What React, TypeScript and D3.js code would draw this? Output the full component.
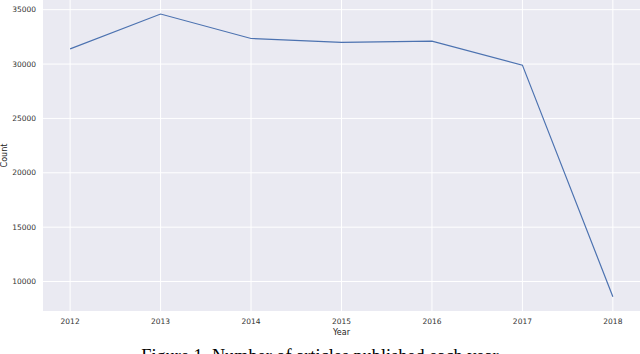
import React, { useEffect, useRef } from 'react';
import * as d3 from 'd3';

const width = 640;
const height = 354;
const margin = { top: 0, right: 0, bottom: 43, left: 43 };

const years = [2012, 2013, 2014, 2015, 2016, 2017, 2018];
const counts = [31400, 34600, 32350, 32000, 32100, 29900, 8600];
const yTicks = [10000, 15000, 20000, 25000, 30000, 35000];

const caption = 'Figure 1. Number of articles published each year';

function App() {
  const ref = useRef<SVGSVGElement | null>(null);

  useEffect(() => {
    const svg = d3.select(ref.current);
    svg.selectAll('*').remove();

    const x = d3
      .scaleLinear()
      .domain([2011.7, 2018.3])
      .range([margin.left, width - margin.right]);

    const y = d3
      .scaleLinear()
      .domain([7290, 35890])
      .range([height - margin.bottom, margin.top]);

    // plot background
    svg
      .append('rect')
      .attr('x', margin.left)
      .attr('y', margin.top)
      .attr('width', width - margin.left - margin.right)
      .attr('height', height - margin.bottom - margin.top)
      .attr('fill', '#eaeaf2');

    // grid
    svg
      .append('g')
      .selectAll('line')
      .data(years)
      .join('line')
      .attr('x1', (d) => x(d))
      .attr('x2', (d) => x(d))
      .attr('y1', margin.top)
      .attr('y2', height - margin.bottom)
      .attr('stroke', '#fff')
      .attr('stroke-width', 1);

    svg
      .append('g')
      .selectAll('line')
      .data(yTicks)
      .join('line')
      .attr('x1', margin.left)
      .attr('x2', width - margin.right)
      .attr('y1', (d) => y(d))
      .attr('y2', (d) => y(d))
      .attr('stroke', '#fff')
      .attr('stroke-width', 1);

    // line
    const line = d3
      .line<number>()
      .x((_, i) => x(years[i]))
      .y((d) => y(d));

    svg
      .append('path')
      .datum(counts)
      .attr('d', line)
      .attr('fill', 'none')
      .attr('stroke', '#4c72b0')
      .attr('stroke-width', 1.2);

    // tick labels
    const font = 'DejaVu Sans';
    svg
      .append('g')
      .selectAll('text')
      .data(years)
      .join('text')
      .attr('x', (d) => x(d))
      .attr('y', height - margin.bottom + 13)
      .attr('text-anchor', 'middle')
      .attr('font-family', font)
      .attr('font-size', 7.5)
      .attr('fill', '#333')
      .text((d) => d);

    svg
      .append('g')
      .selectAll('text')
      .data(yTicks)
      .join('text')
      .attr('x', margin.left - 7)
      .attr('y', (d) => y(d))
      .attr('dy', '0.35em')
      .attr('text-anchor', 'end')
      .attr('font-family', font)
      .attr('font-size', 7.5)
      .attr('fill', '#333')
      .text((d) => d);

    // axis titles
    svg
      .append('text')
      .attr('x', x(2015))
      .attr('y', height - margin.bottom + 24)
      .attr('text-anchor', 'middle')
      .attr('font-family', font)
      .attr('font-size', 8)
      .attr('fill', '#222')
      .text('Year');

    svg
      .append('text')
      .attr('transform', `translate(7, ${(height - margin.bottom) / 2}) rotate(-90)`)
      .attr('text-anchor', 'middle')
      .attr('font-family', font)
      .attr('font-size', 8)
      .attr('fill', '#222')
      .text('Count');

    // figure caption, cut by the bottom edge as in the source
    svg
      .append('text')
      .attr('x', width / 2)
      .attr('y', 362)
      .attr('text-anchor', 'middle')
      .attr('font-family', 'Liberation Serif')
      .attr('font-size', 18.3)
      .attr('fill', '#000')
      .text(caption);
  }, []);

  return (
    <svg
      ref={ref}
      width={width}
      height={height}
      style={{ position: 'absolute', left: 0, top: 0, background: '#fff' }}
    />
  );
}

export default App;
